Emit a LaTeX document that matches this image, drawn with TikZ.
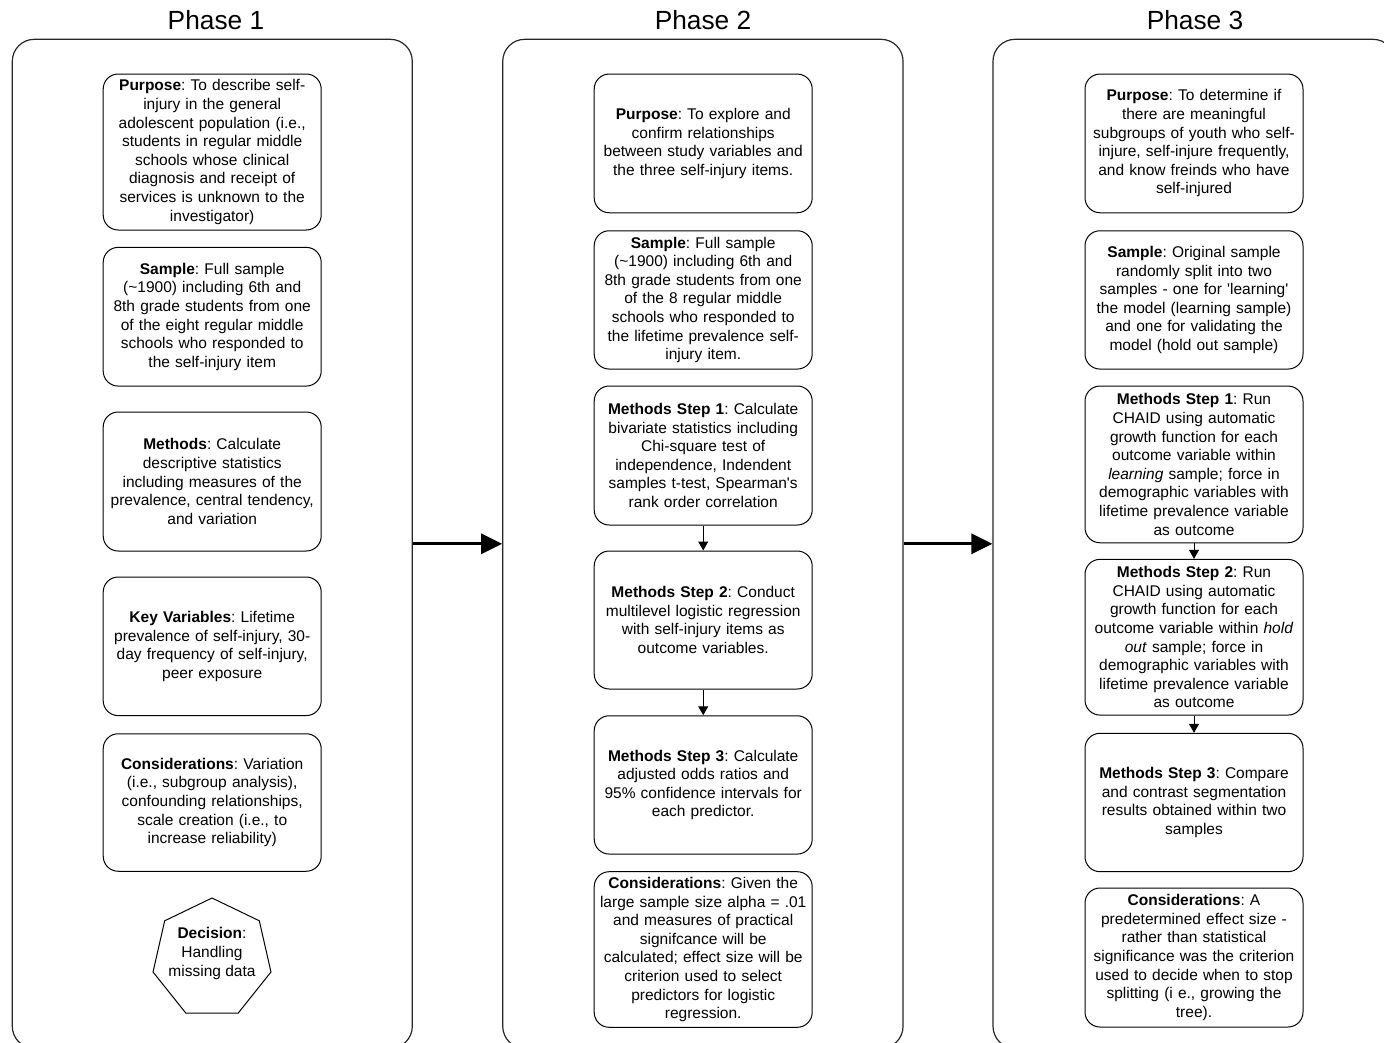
\documentclass[tikz,border=0pt]{standalone}
\usepackage{fontspec}
\newfontfamily\lsans{Liberation Sans}
\usetikzlibrary{arrows.meta,shapes.geometric}
\begin{document}
\frenchspacing
\begin{tikzpicture}[x=1pt,y=-1pt,
  panelbox/.style={draw=black!85,line width=1.2pt,rounded corners=22pt,inner sep=0pt},
  pbox/.style={draw=black,line width=1pt,rounded corners=15pt,minimum width=218pt,
    text width=216pt,align=center,inner sep=0pt,
    font=\lsans\fontsize{15.5}{18.6}\selectfont},
  ptitle/.style={anchor=base,font=\lsans\fontsize{26.3}{30}\selectfont},
  bigarr/.style={line width=3.3pt,-{Triangle[length=21pt,width=20pt]}},
  smallarr/.style={line width=1pt,-{Triangle[length=9pt,width=10pt]}}]
\useasboundingbox (0,0) rectangle (1384,1042);

% titles
\node[ptitle] (t1) at (216,29.5) {Phase 1};
\node[ptitle] (t2) at (703,29.5) {Phase 2};
\node[ptitle] (t3) at (1195,29.5) {Phase 3};

% panels
\node[panelbox,minimum width=400pt,minimum height=1009pt] (panel1) at (212.3,543.8) {};
\node[panelbox,minimum width=400.3pt,minimum height=1009pt] (panel2) at (702.9,543.8) {};
\node[panelbox,minimum width=402pt,minimum height=1009pt] (panel3) at (1194,543.8) {};

% Phase 1
\node[pbox,minimum height=156pt] (p1a) at (212.2,152) {\textbf{Purpose}: To describe self-\\injury in the general\\adolescent population (i.e.,\\students in regular middle\\schools whose clinical\\diagnosis and receipt of\\services is unknown to the\\investigator)};
\node[pbox,minimum height=138.7pt] (p1b) at (212.2,316.7) {\textbf{Sample}: Full sample\\(\textasciitilde1900) including 6th and\\8th grade students from one\\of the eight regular middle\\schools who responded to\\the self-injury item};
\node[pbox,minimum height=139pt] (p1c) at (212.2,481.5) {\textbf{Methods}: Calculate\\descriptive statistics\\including measures of the\\prevalence, central tendency,\\and variation};
\node[pbox,minimum height=138.6pt] (p1d) at (212.2,646.3) {\textbf{Key Variables}: Lifetime\\prevalence of self-injury, 30-\\day frequency of self-injury,\\peer exposure};
\node[pbox,minimum height=137.5pt] (p1e) at (212.2,802.5) {\textbf{Considerations}: Variation\\(i.e., subgroup analysis),\\confounding relationships,\\scale creation (i.e., to\\increase reliability)};
\node[draw=black,line width=1pt,regular polygon,regular polygon sides=7,minimum size=121pt,inner sep=0pt] (dec) at (212,958.5) {};
\node[align=center,inner sep=0pt,font=\lsans\fontsize{15.5}{18.6}\selectfont] (dectext) at (212,953.5) {\textbf{Decision}:\\Handling\\missing data};

% Phase 2
\node[pbox,minimum height=138.7pt] (p2a) at (703.2,143.4) {\textbf{Purpose}: To explore and\\confirm relationships\\between study variables and\\the three self-injury items.};
\node[pbox,minimum height=138.3pt] (p2b) at (703.2,299.9) {\textbf{Sample}: Full sample\\(\textasciitilde1900) including 6th and\\8th grade students from one\\of the 8 regular middle\\schools who responded to\\the lifetime prevalence self-\\injury item.};
\node[pbox,minimum height=139pt] (p2c) at (703.2,455.5) {\textbf{Methods Step 1}: Calculate\\bivariate statistics including\\Chi-square test of\\independence, Indendent\\samples t-test, Spearman's\\rank order correlation};
\node[pbox,minimum height=138pt] (p2d) at (703.2,620) {\textbf{Methods Step 2}: Conduct\\multilevel logistic regression\\with self-injury items as\\outcome variables.};
\node[pbox,minimum height=138.3pt] (p2e) at (703.2,784.9) {\textbf{Methods Step 3}: Calculate\\adjusted odds ratios and\\95\% confidence intervals for\\each predictor.};
\node[pbox,minimum height=155.6pt] (p2f) at (703.2,949.5) {\textbf{Considerations}: Given the\\large sample size alpha = .01\\and measures of practical\\signifcance will be\\calculated; effect size will be\\criterion used to select\\predictors for logistic\\regression.};

% Phase 3
\node[pbox,minimum height=138.7pt] (p3a) at (1194,143.4) {\textbf{Purpose}: To determine if\\there are meaningful\\subgroups of youth who self-\\injure, self-injure frequently,\\and know freinds who have\\self-injured};
\node[pbox,minimum height=138.3pt] (p3b) at (1194,299.9) {\textbf{Sample}: Original sample\\randomly split into two\\samples - one for 'learning'\\the model (learning sample)\\and one for validating the\\model (hold out sample)};
\node[pbox,minimum height=156.7pt] (p3c) at (1194,464.4) {\textbf{Methods Step 1}: Run\\CHAID using automatic\\growth function for each\\outcome variable within\\\textit{learning} sample; force in\\demographic variables with\\lifetime prevalence variable\\as outcome};
\node[pbox,minimum height=155.7pt] (p3d) at (1194,637.2) {\textbf{Methods Step 2}: Run\\CHAID using automatic\\growth function for each\\outcome variable within \textit{hold}\\\textit{out} sample; force in\\demographic variables with\\lifetime prevalence variable\\as outcome};
\node[pbox,minimum height=138.4pt] (p3e) at (1194,802.5) {\textbf{Methods Step 3}: Compare\\and contrast segmentation\\results obtained within two\\samples};
\node[pbox,minimum height=139pt] (p3f) at (1194,957.5) {\textbf{Considerations}: A\\predetermined effect size -\\rather than statistical\\significance was the criterion\\used to decide when to stop\\splitting (i e., growing the\\tree).};

% connectors
\draw[bigarr] (panel1.east) -- (panel2.west);
\draw[bigarr] (panel2.east) -- (panel3.west);
\draw[smallarr] (p2c) -- (p2d);
\draw[smallarr] (p2d) -- (p2e);
\draw[smallarr] (p3c) -- (p3d);
\draw[smallarr] (p3d) -- (p3e);
\end{tikzpicture}
\end{document}
